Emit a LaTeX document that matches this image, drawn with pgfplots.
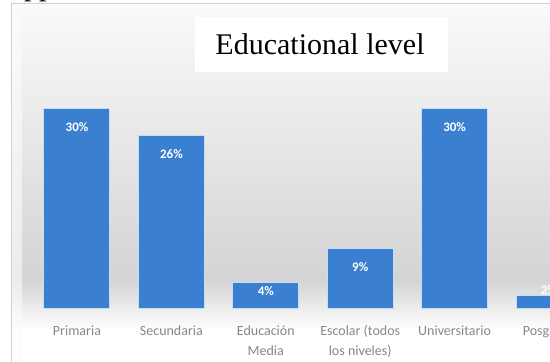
\documentclass[border=0pt]{standalone}
\usepackage{pgfplots}
\pgfplotsset{compat=1.18}
\usepackage{fontspec}
\setmainfont{Liberation Serif}
\newfontfamily\carlito{Carlito}
\definecolor{barblue}{RGB}{59,127,208}
\definecolor{barglow}{RGB}{196,222,245}
\definecolor{labgray}{RGB}{135,135,135}
\definecolor{bgmid}{RGB}{212,212,212}
\definecolor{bgtop}{RGB}{250,250,250}
\begin{document}
\begin{tikzpicture}[x=1pt,y=1pt]
\path[use as bounding box] (0,0) rectangle (550,362);
\clip (0,0) rectangle (550,362);
\fill[white] (0,0) rectangle (550,362);
% panel background
\shade[top color=bgtop, bottom color=bgmid] (11,82) rectangle (550,359);
\shade[top color=bgmid, bottom color=white] (11,32) rectangle (550,82);
\fill[white] (11,0) rectangle (550,32);
\shade[left color=white, right color=bgtop, opacity=0.6] (11,0) rectangle (22,359);
\draw[gray!35, line width=0.8pt] (11,0) -- (11,359) -- (550,359);
% cropped text above
\node[anchor=base west, inner sep=0pt, font=\fontsize{30}{30}\selectfont] at (24,366.5) {pp};
% title box
\fill[white] (195,290) rectangle (448,345);
\node[font=\fontsize{30}{30}\selectfont, anchor=center] at (320,318) {Educational level};
\begin{axis}[
  at={(11pt,53pt)}, anchor=south west,
  scale only axis, width=589pt, height=306pt,
  xmin=-0.699, xmax=5.54, ymin=0, ymax=45.9,
  axis line style={draw=none},
  ytick=\empty,
  xtick={0,1,2,3,4,5},
  xticklabels={Primaria, Secundaria, Educación\\Media, Escolar (todos\\los niveles), Universitario, Posgrado},
  xticklabel style={font=\carlito\fontsize{14}{20}\selectfont, text=labgray, align=center, yshift=-13pt},
  major tick length=0pt,
  clip=false,
  ybar, bar width=66pt,
  visualization depends on={rawy \as \ry},
  /pgf/number format/assume math mode=true,
  nodes near coords={\pgfmathprintnumber{\pgfplotspointmeta}\%},
  every node near coord/.append style={font=\carlito\bfseries\fontsize{13}{13}\selectfont, text=white, anchor=center, yshift={ifthenelse(\ry>5,-18,ifthenelse(\ry>3,-9,6))}},
]
\addplot[fill=barblue, draw=barglow, line width=1pt] coordinates {(0,30) (1,26) (2,4) (3,9) (4,30) (5,2)};
\end{axis}
\end{tikzpicture}
\end{document}
